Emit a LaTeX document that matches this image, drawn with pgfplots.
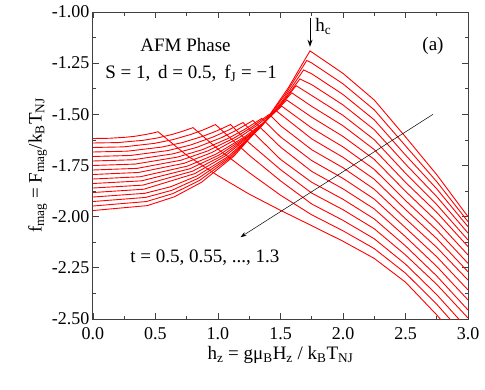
\documentclass[border=0pt]{standalone}
\usepackage{fontspec}
\setmainfont{Liberation Serif}
\usepackage{pgfplots}
\pgfplotsset{compat=1.18}
\usetikzlibrary{arrows.meta}

\tikzset{curve/.style={red, solid, line width=0.9pt, mark=none}}

\begin{document}
\begin{tikzpicture}
\begin{axis}[
    at={(0,0)}, anchor=south west,
    scale only axis,
    width=375pt, height=307pt,
    xmin=0, xmax=3, ymin=-2.5, ymax=-1,
    xtick={0,0.5,...,3},
    ytick={-2.5,-2.25,...,-1},
    minor x tick num=1, minor y tick num=1,
    tick align=inside,
    major tick length=6pt, minor tick length=3.5pt,
    axis line style={line width=1pt, black!75},
    every tick/.style={line width=0.8pt, black!75},
    tick label style={font=\fontsize{18}{20}\selectfont},
    /pgf/number format/assume math mode=true,
    yticklabel style={/pgf/number format/.cd, fixed, fixed zerofill, precision=2},
    xticklabel style={yshift=-5pt, /pgf/number format/.cd, fixed, fixed zerofill, precision=1},
    label style={font=\fontsize{19}{21}\selectfont},
    xlabel={h\textsubscript{z} = gμ\textsubscript{B}H\textsubscript{z} / k\textsubscript{B}T\textsubscript{NJ}},
    ylabel={f\textsubscript{mag} = F\textsubscript{mag}/k\textsubscript{B}T\textsubscript{NJ}},
    xlabel style={yshift=0pt},
    ylabel style={yshift=-2pt},
]
% t = 0.5
\addplot[curve] coordinates {(0,-1.970)(0.434,-1.946)(0.651,-1.903)(0.868,-1.832)(1.128,-1.704)(1.389,-1.524)(1.562,-1.371)(1.736,-1.190)(2.0,-1.300)(2.25,-1.430)(2.5,-1.610)(2.75,-1.795)(3.0,-2.000)};
% t = 0.55
\addplot[curve] coordinates {(0,-1.948)(0.428,-1.926)(0.641,-1.887)(0.855,-1.822)(1.112,-1.706)(1.368,-1.541)(1.539,-1.402)(1.71,-1.237)(1.75,-1.249)(2.0,-1.351)(2.25,-1.478)(2.5,-1.654)(2.75,-1.829)(3.0,-2.024)};
% t = 0.6
\addplot[curve] coordinates {(0,-1.926)(0.421,-1.906)(0.632,-1.871)(0.843,-1.812)(1.095,-1.707)(1.348,-1.558)(1.517,-1.432)(1.685,-1.283)(1.75,-1.302)(2.0,-1.403)(2.25,-1.527)(2.5,-1.699)(2.75,-1.864)(3.0,-2.049)};
% t = 0.65
\addplot[curve] coordinates {(0,-1.904)(0.414,-1.886)(0.621,-1.854)(0.828,-1.802)(1.076,-1.708)(1.324,-1.574)(1.49,-1.461)(1.655,-1.327)(1.75,-1.355)(2.0,-1.454)(2.25,-1.575)(2.5,-1.743)(2.75,-1.902)(3.0,-2.080)};
% t = 0.7
\addplot[curve] coordinates {(0,-1.882)(0.406,-1.866)(0.813,-1.790)(1.056,-1.704)(1.3,-1.583)(1.463,-1.481)(1.625,-1.360)(1.75,-1.408)(2.0,-1.505)(2.25,-1.624)(2.5,-1.788)(2.75,-1.941)(3.0,-2.114)};
% t = 0.75
\addplot[curve] coordinates {(0,-1.860)(0.398,-1.846)(0.795,-1.778)(1.034,-1.702)(1.272,-1.594)(1.431,-1.503)(1.59,-1.395)(1.75,-1.461)(2.0,-1.556)(2.25,-1.672)(2.5,-1.832)(2.75,-1.979)(3.0,-2.146)};
% t = 0.8
\addplot[curve] coordinates {(0,-1.838)(0.388,-1.825)(0.775,-1.766)(1.008,-1.699)(1.24,-1.605)(1.395,-1.525)(1.55,-1.430)(1.75,-1.514)(2.0,-1.608)(2.25,-1.720)(2.5,-1.876)(2.75,-2.022)(3.0,-2.187)};
% t = 0.85
\addplot[curve] coordinates {(0,-1.816)(0.378,-1.805)(0.755,-1.753)(0.982,-1.695)(1.208,-1.612)(1.359,-1.543)(1.51,-1.460)(1.75,-1.567)(2.0,-1.659)(2.25,-1.769)(2.5,-1.921)(2.75,-2.065)(3.0,-2.228)};
% t = 0.9
\addplot[curve] coordinates {(0,-1.794)(0.365,-1.784)(0.73,-1.739)(0.949,-1.687)(1.168,-1.614)(1.314,-1.553)(1.46,-1.480)(1.75,-1.620)(2.0,-1.710)(2.25,-1.817)(2.5,-1.965)(2.75,-2.107)(3.0,-2.269)};
% t = 0.95
\addplot[curve] coordinates {(0,-1.772)(0.353,-1.764)(0.705,-1.724)(0.917,-1.679)(1.128,-1.616)(1.269,-1.563)(1.41,-1.500)(1.5,-1.555)(1.75,-1.673)(2.0,-1.761)(2.25,-1.866)(2.5,-2.010)(2.75,-2.150)(3.0,-2.310)};
% t = 1.0
\addplot[curve] coordinates {(0,-1.750)(0.338,-1.743)(0.675,-1.709)(0.878,-1.672)(1.08,-1.618)(1.215,-1.573)(1.35,-1.520)(1.5,-1.610)(1.75,-1.726)(2.0,-1.813)(2.25,-1.914)(2.5,-2.054)(2.75,-2.196)(3.0,-2.358)};
% t = 1.05
\addplot[curve] coordinates {(0,-1.728)(0.32,-1.722)(0.64,-1.693)(0.832,-1.661)(1.024,-1.615)(1.152,-1.576)(1.28,-1.530)(1.5,-1.660)(1.75,-1.779)(2.0,-1.864)(2.25,-1.962)(2.5,-2.098)(2.75,-2.243)(3.0,-2.407)};
% t = 1.1
\addplot[curve] coordinates {(0,-1.706)(0.3,-1.701)(0.6,-1.677)(0.78,-1.650)(0.96,-1.611)(1.08,-1.578)(1.2,-1.540)(1.5,-1.720)(1.75,-1.832)(2.0,-1.915)(2.25,-2.011)(2.5,-2.143)(2.75,-2.290)(3.0,-2.456)};
% t = 1.15
\addplot[curve] coordinates {(0,-1.684)(0.275,-1.680)(0.55,-1.660)(0.715,-1.638)(0.88,-1.607)(0.99,-1.581)(1.1,-1.550)(1.25,-1.640)(1.5,-1.770)(1.75,-1.885)(2.0,-1.966)(2.25,-2.059)(2.5,-2.187)(2.75,-2.331)(3.0,-2.495)};
% t = 1.2
\addplot[curve] coordinates {(0,-1.662)(0.245,-1.659)(0.49,-1.642)(0.637,-1.624)(0.784,-1.598)(0.882,-1.576)(0.98,-1.550)(1.25,-1.700)(1.5,-1.825)(1.75,-1.938)(2.0,-2.018)(2.25,-2.108)(2.5,-2.232)(2.75,-2.381)(3.0,-2.550)};
% t = 1.25
\addplot[curve] coordinates {(0,-1.640)(0.2,-1.638)(0.4,-1.627)(0.52,-1.615)(0.64,-1.597)(0.72,-1.582)(0.8,-1.565)(1.0,-1.670)(1.25,-1.785)(1.5,-1.895)(1.75,-1.991)(2.0,-2.069)(2.25,-2.156)(2.5,-2.276)(2.75,-2.428)(3.0,-2.600)};
% t = 1.3
\addplot[curve] coordinates {(0,-1.618)(0.13,-1.617)(0.26,-1.612)(0.338,-1.607)(0.416,-1.599)(0.468,-1.593)(0.52,-1.585)(0.75,-1.700)(1.0,-1.800)(1.25,-1.890)(1.5,-1.969)(1.75,-2.044)(2.0,-2.120)(2.25,-2.204)(2.5,-2.320)(2.75,-2.480)(3.0,-2.660)};

% annotations
\draw[-{Stealth[length=6pt,width=4pt]}, line width=0.5pt] (axis cs:2.72,-1.50) -- (axis cs:1.18,-2.10);
\draw[-{Stealth[length=7pt,width=5pt]}, line width=0.9pt] (axis cs:1.736,-1.03) -- (axis cs:1.736,-1.17);
\node[anchor=west, font=\fontsize{19}{21}\selectfont] at (axis cs:1.75,-1.07) {h\textsubscript{c}};
\node[font=\fontsize{19}{21}\selectfont] at (axis cs:0.74,-1.16) {AFM Phase};
\node[anchor=west, font=\fontsize{19}{21}\selectfont] at (axis cs:0.07,-1.30) {S = 1,\, d = 0.5,\, f\textsubscript{J} = −1};
\node[font=\fontsize{19}{21}\selectfont] at (axis cs:2.72,-1.165) {(a)};
\node[anchor=west, font=\fontsize{19}{21}\selectfont] at (axis cs:0.27,-2.20) {t = 0.5, 0.55, ..., 1.3};
\end{axis}
\pgfresetboundingbox
\path[use as bounding box] (-93pt,-70pt) rectangle (392pt,319pt);
\end{tikzpicture}
\end{document}
